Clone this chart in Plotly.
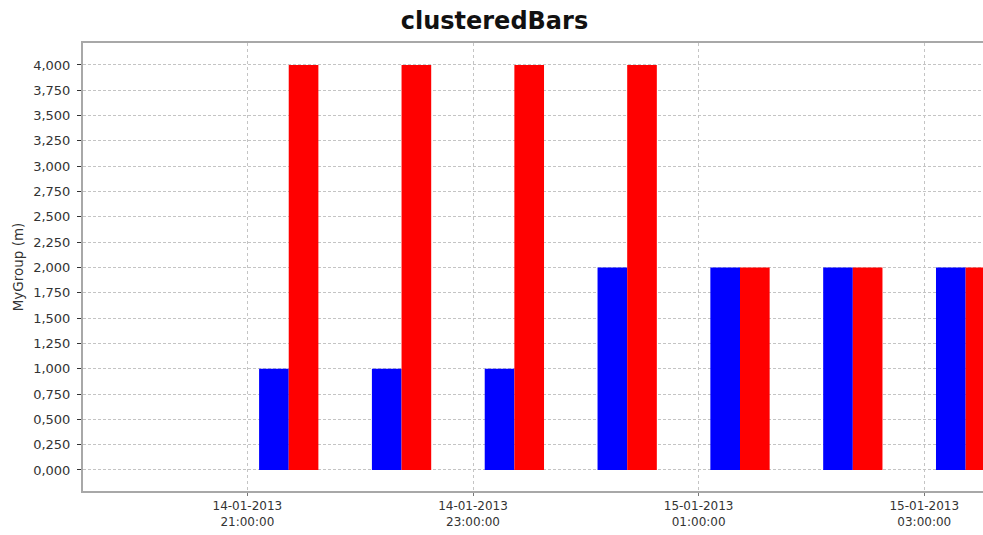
import plotly.graph_objects as go

times = ["2013-01-14 21:22", "2013-01-14 22:22", "2013-01-14 23:22",
         "2013-01-15 00:22", "2013-01-15 01:22", "2013-01-15 02:22",
         "2013-01-15 03:22"]
blue_vals = [1, 1, 1, 2, 2, 2, 2]
red_vals = [4, 4, 4, 4, 2, 2, 2]

bar_w = 946000  # ms

fig = go.Figure()
fig.add_trace(go.Bar(x=times, y=blue_vals, width=[bar_w]*len(times), offset=-bar_w,
                     marker=dict(color="#0000ff", line=dict(width=0)), name="A"))
fig.add_trace(go.Bar(x=times, y=red_vals, width=[bar_w]*len(times), offset=0,
                     marker=dict(color="#ff0000", line=dict(width=0)), name="B"))

font_fam = "DejaVu Sans"
fig.update_layout(
    width=983, height=535,
    margin=dict(l=83, r=0, t=43, b=44, autoexpand=False),
    paper_bgcolor="white", plot_bgcolor="white",
    barmode="overlay", showlegend=False,
    separators=",.",
    title=dict(text="<b>clusteredBars</b>", x=0.503, xanchor="center", y=0.962, yanchor="middle",
               font=dict(family="DejaVu Sans", size=24, color="#111")),
    font=dict(family=font_fam, size=12, color="#333"),
)
fig.update_xaxes(
    type="date", automargin=False,
    range=["2013-01-14 19:32:35", "2013-01-15 03:31:14"],
    tick0="2013-01-14 21:00", dtick=2*3600000,
    tickformat="%d-%m-%Y<br>%H:%M:%S",
    showgrid=True, gridcolor="#c4c4c4", griddash="dot", gridwidth=1,
    showline=True, linecolor="#a8a8a8", linewidth=2, mirror=True,
    ticks="outside", ticklen=3, tickcolor="#777",
    tickfont=dict(family=font_fam, size=12, color="#333"),
)
fig.update_yaxes(
    automargin=False,
    range=[-0.208, 4.217],
    tick0=0, dtick=0.25, tickformat=".3f",
    showgrid=True, gridcolor="#c4c4c4", griddash="3px,2px", gridwidth=1,
    zeroline=False,
    showline=True, linecolor="#a8a8a8", linewidth=2,
    ticks="outside", ticklen=4, tickcolor="#333", ticklabelstandoff=4,
    title=dict(text="MyGroup (m)", font=dict(family=font_fam, size=13.5, color="#333"), standoff=6),
    tickfont=dict(family=font_fam, size=13, color="#333"),
)

fig.write_html("out.html", config={"displayModeBar": False},
               post_script="document.body.style.margin='0';document.body.style.overflow='hidden';")
